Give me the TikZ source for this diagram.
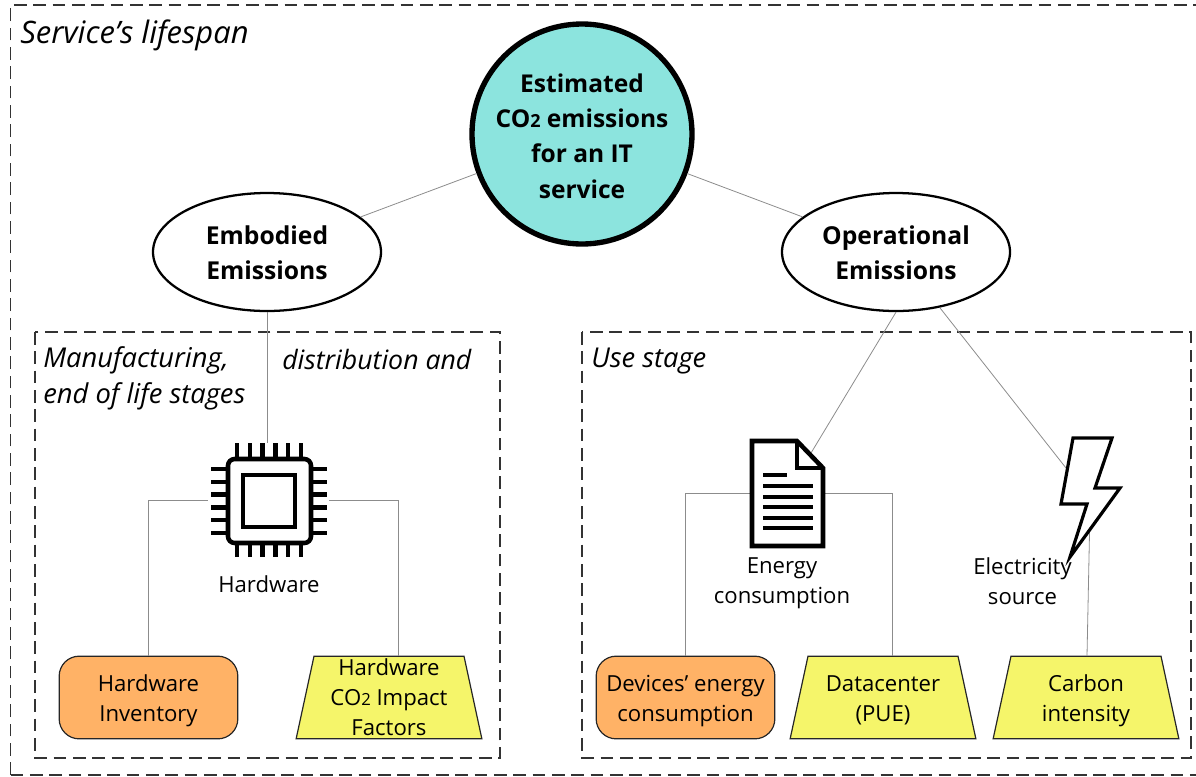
\documentclass[tikz,border=0pt]{standalone}
\usepackage{fontspec}
\setmainfont{Open Sans}
\usetikzlibrary{shapes.geometric}
\definecolor{teal}{HTML}{8CE4DE}
\definecolor{orangebox}{HTML}{FFB266}
\definecolor{yellowbox}{HTML}{F5F56A}
\definecolor{dashcol}{HTML}{333333}
\definecolor{linkcol}{HTML}{8C8C8C}
\newcommand{\subtwo}{{\fontsize{12.5}{12.5}\selectfont 2}}
\newcommand{\subtwob}{{\fontsize{13.5}{13.5}\selectfont 2}}
\newcommand{\dropa}{\rule{0pt}{17pt}}
\newcommand{\dropb}{\rule{0pt}{15.5pt}}
\newcommand{\trapbody}{\phantom{\rule{112.5pt}{62pt}}}
\tikzset{
  zone/.style={draw=dashcol,line width=1.25pt,dash pattern=on 9.5pt off 5pt},
  link/.style={draw=linkcol,line width=0.6pt},
  bigell/.style={ellipse,draw=black,fill=white,line width=1.7pt,minimum width=171pt,minimum height=88.5pt,inner sep=0pt,align=center,font=\fontsize{18.5}{26.5}\selectfont\bfseries},
  mainc/.style={circle,draw=black,fill=teal,line width=4pt,minimum size=165pt,inner sep=0pt,align=center,font=\fontsize{18.4}{26.5}\selectfont\bfseries},
  invent/.style={rounded corners=15pt,rectangle,draw=black!85,fill=orangebox,line width=0.9pt,minimum width=134pt,minimum height=62pt,inner sep=0pt,align=center,font=\fontsize{16.6}{22.5}\selectfont},
  trap/.style={trapezium,trapezium angle=77.8,draw=black!85,fill=yellowbox,line width=0.9pt,inner sep=0pt},
  body/.style={align=center,inner sep=0pt,font=\fontsize{16.6}{22.5}\selectfont},
  zonelabel/.style={anchor=west,inner sep=0pt,font=\fontsize{20.5}{22}\selectfont\itshape},
  pin/.style={line width=3.4pt,draw=black},
  stroke/.style={line width=3.4pt,draw=black}
}
\begin{document}
\begin{tikzpicture}[x=0.75pt,y=-0.75pt]
\useasboundingbox (0,0) rectangle (1196,776);
% zones
\draw[zone] (10.5,775) -- (10.5,5) -- (1198,5);
\draw[zone] (10.5,775) -- (1198,775);
\draw[zone] (35,332) rectangle (500,758);
\draw[zone] (582,332) rectangle (1191,758);
\node[zonelabel,font=\fontsize{23.2}{24}\selectfont\itshape] (life) at (20,35) {Service's lifespan};
\node[zonelabel] (m1) at (43,360) {Manufacturing,};
\node[zonelabel,font=\fontsize{20}{22}\selectfont\itshape] (m2) at (282,359) {distribution and};
\node[zonelabel] (m3) at (43,396) {end of life stages};
\node[zonelabel] (use) at (591,361) {Use stage};

% icon anchors
\node[inner sep=0pt,minimum width=90.75pt,minimum height=85.5pt] (chip) at (268.5,500.5) {};
\node[inner sep=0pt,minimum width=53.25pt,minimum height=78.75pt] (doc) at (787.5,493.5) {};
\coordinate (docA) at (811,453);
\coordinate (boltA) at (1066,468);
\coordinate (boltB) at (1089.5,533);

% main nodes
\node[mainc] (main) at (582,134) {\rule{0pt}{17pt}Estimated\\CO\subtwob{} emissions\\for an IT\\service};
\node[bigell] (emb) at (267,252) {\dropb Embodied\\Emissions};
\node[bigell] (op) at (896,252) {\dropb Operational\\Emissions};

\node[invent] (inv) at (148.5,697.5) {\dropa Hardware\\Inventory};
\node[invent] (dev) at (685.5,697.5) {\dropa Devices’ energy\\consumption};
\node[trap] (fac) at (389,697.5) {\trapbody};
\node[trap] (dc) at (883,697.5) {\trapbody};
\node[trap] (ci) at (1086,697.5) {\trapbody};
\node[body] (fact) at (389,697.5) {Hardware\\CO\subtwo{} Impact\\Factors};
\node[body] (dct) at (883,700) {Datacenter\\(PUE)};
\node[body] (cit) at (1086,700.5) {Carbon\\intensity};
\node[body] (hwl) at (269,584) {Hardware};
\node[body] (enl) at (782,583.5) {Energy\\consumption};
\node[body] (ell) at (1022.5,581.5) {Electricity\\source};

% connectors
\draw[link] (main) -- (emb);
\draw[link] (main) -- (op);
\draw[link] (emb.south) -- (emb.south |- chip.north);
\draw[link] (chip.west) -| (inv.north);
\draw[link] (chip.east) -| (398,656);
\draw[link] (op.south) -- (docA);
\draw[link] (op) -- (boltA);
\draw[link] (doc.west) -| (dev.north);
\draw[link] (doc.east) -| (892,656);
\draw[link] (boltB) -- (1087,656);

% chip icon
\draw[stroke,rounded corners=5pt] (228,459) rectangle (311,543);
\draw[stroke] (243,475) rectangle (295,527);
\foreach \x in {237,249.8,262.6,275.4,288.2,301} {
  \draw[pin] (\x,443) -- (\x,459);
  \draw[pin] (\x,543) -- (\x,557);
}
\foreach \y in {469,481.8,494.6,507.4,520.2,533} {
  \draw[pin] (211,\y) -- (228,\y);
  \draw[pin] (311,\y) -- (327,\y);
}
% document icon
\draw[stroke,fill=white,miter limit=4] (752,441) -- (797,441) -- (823,468) -- (823,546) -- (752,546) -- cycle;
\draw[stroke] (797,441) -- (797,468) -- (823,468);
\foreach \y in {486,497,507,518,528} {
  \draw[line width=2.6pt] (763,\y) -- (813,\y);
}
\draw[line width=2.6pt] (763,475) -- (787,475);
% bolt icon
\draw[line width=2.4pt,draw=black,fill=white,line join=miter] (1073,438) -- (1112,438) -- (1095,488) -- (1120,488) -- (1070,557) -- (1087,504) -- (1061,504) -- cycle;
\end{tikzpicture}
\end{document}
